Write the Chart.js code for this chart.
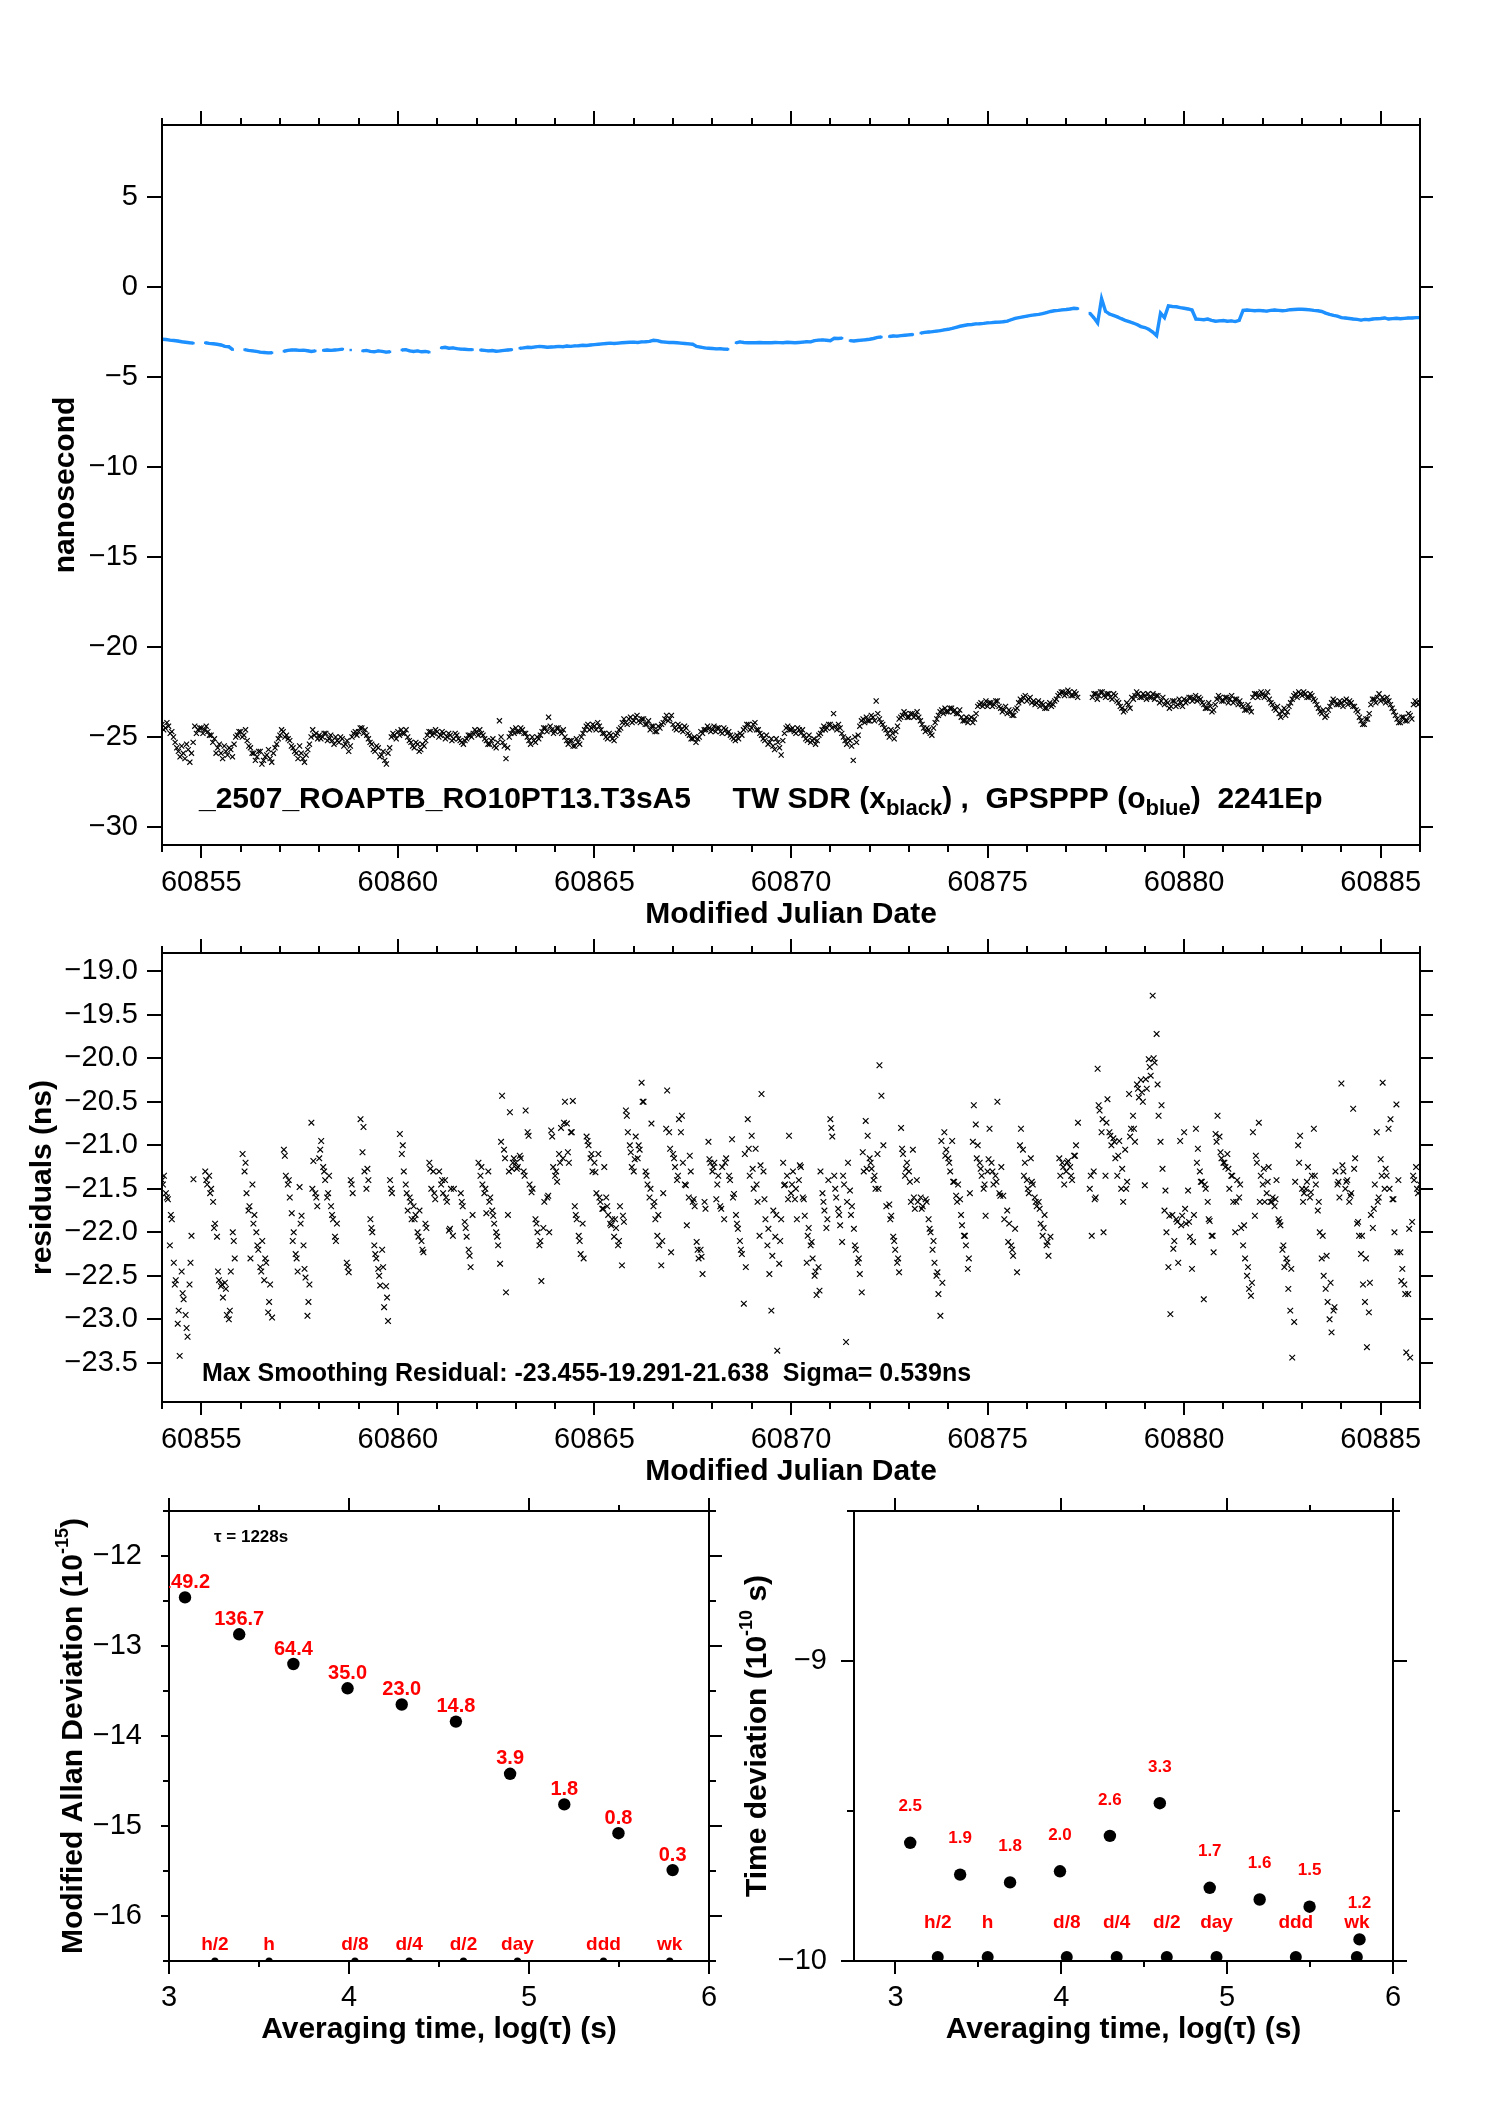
<!DOCTYPE html>
<html>
<head>
<meta charset="utf-8">
<script src="https://cdn.jsdelivr.net/npm/chart.js@4.4.1/dist/chart.umd.min.js"></script>
<style>
html,body{margin:0;padding:0;background:#fff;}
#wrap{position:relative;width:1488px;height:2105px;overflow:hidden;background:#fff;}
canvas{position:absolute;}
</style>
</head>
<body>
<div id="wrap">
<canvas id="c1" width="1488" height="935" style="left:0;top:0;width:1488px;height:935px"></canvas>
<canvas id="c2" width="1488" height="575" style="left:0;top:935px;width:1488px;height:575px"></canvas>
<canvas id="c3" width="744" height="625" style="left:0;top:1480px;width:744px;height:625px"></canvas>
<canvas id="c4" width="758" height="625" style="left:730px;top:1480px;width:758px;height:625px"></canvas>
</div>
<script>
// ================= DATA =================
const mjdStart = 60854;

// GPSPPP (blue), one value every 0.1 day from MJD 60854.0 (ns)
const gpsStep = 0.1;
const gpspppNs = [
-2.90,-2.92,-2.95,-2.97,-3.00,-3.04,-3.07,-3.10,-3.12,null,
null,-3.10,-3.13,-3.15,-3.18,-3.22,-3.30,-3.32,-3.48,null,
null,-3.48,-3.52,-3.55,-3.58,-3.62,-3.64,-3.66,-3.65,null,
null,-3.57,-3.52,-3.50,-3.50,-3.52,-3.51,-3.54,-3.58,-3.55,
null,-3.52,-3.50,-3.52,-3.50,-3.48,-3.45,null,-3.50,null,
null,-3.55,-3.52,-3.58,-3.60,-3.55,-3.58,-3.62,-3.60,null,
null,-3.50,-3.48,-3.55,-3.58,-3.55,-3.60,-3.58,-3.62,null,
null,-3.38,-3.35,-3.40,-3.38,-3.42,-3.45,-3.46,-3.48,-3.48,
null,-3.50,-3.52,-3.55,-3.53,-3.57,-3.55,-3.52,-3.50,-3.48,
null,-3.40,-3.38,-3.35,-3.36,-3.33,-3.30,-3.32,-3.35,-3.33,
-3.32,-3.30,-3.32,-3.28,-3.30,-3.27,-3.26,-3.24,-3.25,-3.22,
-3.20,-3.18,-3.16,-3.14,-3.12,-3.14,-3.12,-3.10,-3.08,-3.07,
-3.06,-3.08,-3.05,-3.04,-3.02,-2.96,-2.98,-3.04,-3.06,-3.08,
-3.08,-3.10,-3.12,-3.14,-3.16,-3.18,-3.30,-3.34,-3.38,-3.40,
-3.42,-3.44,-3.43,-3.45,-3.46,null,-3.10,-3.05,-3.08,-3.10,
-3.09,-3.10,-3.08,-3.10,-3.09,-3.10,-3.08,-3.09,-3.10,-3.07,
-3.08,-3.10,-3.08,-3.06,-3.04,-3.05,-2.98,-2.95,-2.94,-2.96,
-2.98,-2.85,-2.86,-2.84,null,-2.98,-3.00,-2.97,-2.95,-2.93,
-2.90,-2.86,-2.80,-2.78,null,-2.75,-2.72,-2.73,-2.70,-2.68,
-2.66,-2.64,null,-2.56,-2.52,-2.50,-2.48,-2.45,-2.42,-2.38,
-2.35,-2.30,-2.24,-2.18,-2.14,-2.10,-2.08,-2.05,-2.04,-2.02,
-1.99,-1.98,-1.96,-1.95,-1.93,-1.90,-1.82,-1.74,-1.70,-1.66,
-1.62,-1.58,-1.55,-1.52,-1.48,-1.42,-1.36,-1.32,-1.30,-1.27,
-1.25,-1.22,-1.18,-1.20,null,null,-1.45,-1.70,-2.00,-0.65,
-1.35,-1.50,-1.58,-1.66,-1.76,-1.85,-1.92,-2.00,-2.08,-2.20,
-2.25,-2.35,-2.50,-2.70,-1.45,-1.70,-1.05,-1.08,-1.10,-1.15,
-1.18,-1.22,-1.28,-1.78,-1.80,-1.82,-1.78,-1.85,-1.90,-1.88,
-1.86,-1.90,-1.88,-1.92,-1.85,-1.30,-1.28,-1.30,-1.32,-1.30,
-1.32,-1.34,-1.30,-1.28,-1.30,-1.32,-1.30,-1.26,-1.25,-1.24,
-1.24,-1.25,-1.27,-1.30,-1.32,-1.36,-1.45,-1.52,-1.58,-1.62,
-1.70,-1.72,-1.75,-1.78,-1.80,-1.84,-1.80,-1.82,-1.78,-1.76,
-1.75,-1.72,-1.78,-1.76,-1.74,-1.76,-1.74,-1.72,-1.72,-1.70,
-1.70];

// TW SDR (black x), one value every 1/12 day from MJD 60854.0 (ns)
const twStep = 1 / 12;
const twSdrNs = [
-24.3,-24.5,-24.4,-24.7,-25.3,-25.8,-25.5,-26.2,-25.7,-25.9,-24.4,-24.6,
-24.5,-24.6,-24.7,-24.9,-25.1,-25.6,-25.9,-25.5,-26.0,-25.7,-25.4,-24.9,
-24.7,-24.9,-25.2,-25.6,-25.9,-26.1,-25.8,-26.3,-26.0,-26.2,-25.9,-25.4,
-24.9,-24.7,-24.9,-25.2,-25.6,-25.9,-25.5,-26.2,-26.0,-25.4,-24.6,-24.8,
-24.9,-25.0,-24.8,-25.1,-25.2,-25.0,-25.3,-25.1,-25.4,-25.8,-25.0,-24.7,
-24.7,-24.5,-24.6,-25.1,-25.4,-25.8,-25.6,-26.0,-26.3,-25.9,-25.0,-24.9,
-24.7,-24.6,-24.8,-25.0,-25.3,-25.6,-25.4,-25.7,-25.5,-24.9,-24.7,-24.8,
-24.7,-24.9,-24.8,-25.0,-24.9,-25.1,-24.9,-25.2,-25.4,-25.1,-24.9,-24.8,
-24.7,-24.6,-24.9,-25.2,-25.4,-25.1,-25.6,-24.1,-25.3,-26.2,-25.0,-24.6,
-24.5,-24.7,-24.6,-24.8,-25.2,-25.0,-25.3,-25.1,-24.7,-24.5,-23.9,-24.6,
-24.7,-24.5,-24.8,-25.0,-25.4,-25.2,-25.5,-25.3,-25.0,-24.6,-24.3,-24.5,
-24.4,-24.2,-24.6,-24.8,-25.1,-24.9,-25.2,-24.8,-24.5,-24.0,-24.3,-23.9,
-24.1,-23.8,-24.2,-24.0,-24.3,-24.6,-24.4,-24.7,-24.5,-24.2,-23.8,-24.0,
-24.3,-24.6,-24.4,-24.7,-24.5,-24.9,-25.1,-25.3,-25.0,-24.8,-24.6,-24.5,
-24.6,-24.7,-24.5,-24.8,-24.6,-24.7,-25.0,-25.2,-25.1,-24.9,-24.5,-24.3,
-24.5,-24.2,-24.6,-24.9,-25.2,-25.4,-25.1,-25.7,-25.3,-26.0,-24.8,-24.4,
-24.6,-24.7,-24.5,-24.8,-24.9,-25.2,-25.3,-25.1,-25.2,-24.8,-24.4,-24.5,
-24.3,-23.7,-24.6,-24.5,-25.0,-25.4,-25.2,-26.3,-25.3,-24.4,-24.0,-23.9,
-24.1,-23.9,-23.0,-24.0,-24.3,-24.6,-25.0,-24.8,-24.7,-24.0,-23.8,-23.7,
-23.9,-23.7,-23.8,-23.9,-24.3,-24.7,-24.6,-24.9,-24.2,-23.8,-23.5,-23.4,
-23.6,-23.4,-23.5,-23.7,-23.9,-24.1,-24.2,-23.9,-24.0,-23.3,-23.1,-23.2,
-23.3,-23.1,-23.2,-23.0,-23.4,-23.5,-23.7,-23.6,-23.8,-23.4,-22.9,-22.8,
-23.0,-22.8,-23.0,-23.1,-23.3,-23.2,-23.4,-23.1,-23.2,-22.9,-22.6,-22.5,
-22.6,-22.5,-22.7,-22.6,null,null,null,null,-22.8,-22.6,-22.7,-22.5,
-22.8,-22.6,-22.9,-22.7,-23.1,-23.4,-23.5,-23.2,-22.8,-22.7,-22.6,-22.8,
-22.7,-22.6,-22.8,-22.9,-22.7,-23.0,-23.2,-23.1,-23.3,-23.0,-23.2,-23.1,
-22.9,-23.0,-22.8,-22.9,-23.0,-22.9,-23.2,-23.4,-23.3,-23.5,-22.9,-22.8,
-23.0,-22.8,-22.9,-23.1,-22.9,-23.0,-23.3,-23.5,-23.4,-22.8,-22.6,-22.7,
-22.6,-22.7,-22.9,-23.2,-23.5,-23.7,-23.6,-23.8,-23.3,-22.9,-22.6,-22.5,
-22.7,-22.6,-22.8,-22.7,-23.0,-23.4,-23.7,-23.9,-23.5,-23.1,-23.0,-23.2,
-23.1,-23.0,-23.2,-23.1,-23.3,-23.6,-24.1,-24.3,-24.0,-23.2,-22.9,-22.8,
-23.0,-22.9,-22.8,-23.2,-23.6,-24.0,-24.2,-23.9,-24.1,-23.8,-23.2,-23.1,
-23.1];

// TW SDR second sample set (black x), every 1/12 day from MJD 60854 + 1/24 (ns)
const twSdrNsB = [
-24.6,-24.2,-24.8,-25.0,-25.6,-26.1,-25.9,-25.4,-26.4,-25.3,-24.8,-24.5,
-24.8,-24.4,-24.9,-25.3,-25.9,-25.4,-26.2,-25.8,-25.6,-26.1,-25.0,-24.7,
-25.0,-24.6,-25.5,-25.9,-26.3,-25.8,-26.5,-26.1,-25.7,-26.4,-25.6,-25.1,
-24.6,-25.0,-25.1,-25.5,-25.8,-26.2,-25.9,-26.4,-25.7,-25.0,-24.9,-25.1,
-25.1,-24.8,-25.2,-24.9,-25.4,-25.2,-25.0,-25.5,-25.2,-25.5,-24.8,-24.9,
-24.5,-24.8,-24.9,-25.3,-25.7,-25.5,-26.1,-25.8,-26.5,-25.6,-24.8,-25.1,
-24.9,-24.8,-24.6,-25.2,-25.5,-25.3,-25.8,-25.4,-25.2,-24.7,-24.9,-24.6,
-25.0,-24.7,-25.1,-24.8,-25.2,-24.8,-25.1,-25.3,-25.2,-24.9,-25.0,-24.6,
-24.9,-24.8,-25.1,-25.4,-25.2,-25.5,-25.3,-25.0,-25.5,-25.6,-24.8,-24.8,
-24.7,-24.5,-24.8,-25.0,-25.4,-25.2,-25.0,-24.9,-24.5,-24.7,-24.4,-24.8,
-24.5,-24.7,-24.6,-25.2,-25.2,-25.5,-25.1,-25.4,-24.8,-24.4,-24.6,-24.3,
-24.6,-24.4,-24.8,-25.0,-24.8,-25.1,-24.9,-24.6,-24.2,-24.2,-24.0,-24.2,
-23.9,-24.1,-24.0,-24.3,-24.1,-24.4,-24.7,-24.4,-24.3,-24.0,-24.1,-23.8,
-24.5,-24.3,-24.6,-24.4,-24.8,-25.1,-25.0,-25.1,-24.7,-24.6,-24.4,-24.7,
-24.4,-24.5,-24.7,-24.5,-24.8,-24.9,-25.1,-24.9,-24.8,-24.6,-24.3,-24.6,
-24.3,-24.6,-24.8,-25.1,-24.9,-25.3,-25.5,-25.1,-25.6,-25.2,-24.5,-24.6,
-24.5,-24.8,-24.6,-24.6,-25.1,-24.9,-25.2,-25.4,-24.9,-24.6,-24.6,-24.3,
-24.5,-24.4,-24.3,-24.8,-25.2,-25.1,-25.5,-25.0,-24.9,-24.1,-24.2,-24.1,
-23.8,-24.1,-23.7,-24.2,-24.5,-24.8,-24.6,-25.1,-24.4,-23.9,-23.6,-23.9,
-23.7,-23.9,-23.6,-24.1,-24.5,-24.5,-24.8,-24.5,-24.0,-23.6,-23.7,-23.6,
-23.4,-23.6,-23.7,-23.5,-24.1,-23.9,-24.0,-24.2,-23.7,-23.2,-23.3,-23.0,
-23.1,-23.3,-23.0,-23.3,-23.6,-23.3,-23.5,-23.8,-23.5,-23.1,-23.0,-22.7,
-22.9,-23.1,-23.2,-23.0,-23.1,-23.4,-23.2,-23.3,-23.0,-22.7,-22.5,-22.7,
-22.4,-22.7,-22.5,-22.8,null,null,null,null,-22.6,-22.9,-22.5,-22.7,
-22.6,-22.8,-22.6,-23.0,-23.3,-23.6,-23.1,-23.4,-22.9,-22.5,-22.8,-22.6,
-22.9,-22.8,-22.6,-22.7,-23.1,-22.8,-23.0,-23.4,-23.0,-23.3,-22.9,-23.3,
-23.1,-22.8,-23.0,-22.7,-22.8,-23.1,-23.4,-23.1,-23.6,-23.2,-22.7,-23.0,
-22.8,-23.1,-22.7,-22.9,-23.2,-23.2,-23.5,-23.2,-23.6,-22.6,-22.8,-22.5,
-22.8,-22.5,-23.1,-23.4,-23.3,-23.9,-23.4,-23.6,-23.1,-22.7,-22.8,-22.6,
-22.5,-22.8,-22.6,-22.9,-23.2,-23.6,-23.5,-23.8,-23.3,-22.9,-23.2,-23.0,
-23.3,-22.9,-23.0,-23.3,-23.5,-23.9,-24.3,-24.0,-23.7,-22.9,-23.1,-22.6,
-22.8,-23.1,-23.0,-23.4,-23.8,-24.2,-23.9,-24.1,-23.7,-24.0,-23.0,-23.2];

// Residuals (ns), one value every 0.05 day from MJD 60854.0
const resStep = 0.05;
const residualNs = [
-21.40,-21.35,-21.55,-21.62,-22.15,-21.85,-22.35,-22.55,-23.05,-23.42,-22.45,-22.77,-22.95,-23.20,-22.60,-22.04,-21.39,null,null,null,
null,null,-21.30,-21.45,-21.35,-21.50,-21.65,-21.90,-22.05,-22.55,-22.62,-22.75,-22.58,-22.95,-23.00,-22.45,-22.00,-22.30,null,null,
null,-21.10,-21.30,-21.55,-21.75,-22.30,-21.45,-21.80,-22.00,-22.20,-22.40,-22.10,-22.55,-22.35,-22.92,-22.60,-22.98,null,null,null,
null,null,-21.05,-21.35,-21.45,-21.60,-21.78,-22.00,-22.25,-22.45,-21.48,-21.81,-22.15,-22.52,-22.96,-22.60,-20.74,-21.18,-21.55,-21.70,
-21.15,-20.95,-21.25,-21.40,-21.60,-21.35,-21.70,-21.85,-22.05,-21.90,null,null,null,null,-22.35,-22.46,-21.40,-21.55,null,null,
null,-20.70,-21.08,-21.30,-21.50,-21.40,-21.85,-22.00,-22.15,-22.30,-22.42,-22.61,-22.20,-22.86,-22.62,-23.02,-21.40,-21.55,null,null,
null,-20.87,-21.10,-21.30,-21.45,-21.75,-21.60,-21.85,-21.70,-21.80,-22.00,-21.75,-22.10,-22.23,-21.90,null,-21.20,-21.50,-21.30,-21.62,
null,-21.30,-21.45,-21.55,-21.40,-21.65,-21.98,-21.50,-22.04,null,null,null,-21.55,-21.70,-21.88,-22.05,-22.20,-22.40,-21.80,null,
null,-21.20,-21.35,-21.45,-21.55,-21.78,-21.30,-21.60,-21.75,-21.90,-22.00,-22.15,-22.36,-20.43,-21.05,-22.69,-21.80,-20.62,-21.27,-21.15,
-21.20,-21.25,-21.12,null,-21.30,-20.60,-20.85,-21.45,-21.54,null,-21.85,-22.00,-22.15,-22.56,-21.95,null,-21.60,-22.00,-20.83,-21.25,
-21.35,-21.42,-21.10,-20.80,-21.15,-20.50,-20.75,-21.20,-20.85,-20.49,-21.70,-21.85,-22.04,-22.25,-21.90,null,-20.90,-21.00,-21.15,-21.30,
-21.20,-21.55,-21.10,-21.65,-21.73,-21.25,-21.60,-21.80,-21.90,-21.85,-22.05,-21.95,-22.15,-21.70,-22.38,-21.88,-20.60,-20.85,-21.00,-21.25,
-21.30,-20.90,-21.15,-21.05,-20.28,-20.50,-21.30,-21.45,-21.60,-20.75,-21.70,-21.85,-22.04,-22.15,-22.38,-21.55,null,-20.37,-20.85,-22.23,
-21.10,-21.25,-21.40,-20.70,-20.85,-21.20,-21.45,-21.92,-21.60,-21.30,-21.65,-21.70,-22.11,-22.30,-22.20,-22.48,-21.65,null,-20.96,-21.20,
-21.30,-21.20,-21.62,-21.35,-21.70,-21.25,-21.85,-21.15,null,-21.40,-20.93,-21.56,-21.80,-21.96,-22.10,-22.25,-22.82,-22.40,-20.70,-21.35,
-20.89,-21.50,-21.04,-21.65,-22.04,-20.41,-21.30,-21.85,-22.15,-22.48,-22.90,-21.75,-22.05,-23.36,-22.36,-21.85,-21.20,-21.45,-21.35,-20.89,
-21.55,-21.30,-21.62,-21.85,-21.40,-21.25,-21.60,-21.81,-22.35,-21.95,-22.15,-22.30,-22.50,-22.72,-22.40,-21.30,-21.55,-21.75,-21.95,-21.40,
-20.70,-20.90,-21.35,-21.60,-21.73,-21.92,-22.11,-21.45,-23.26,-21.20,-21.52,-21.70,-21.96,-22.20,-22.35,-22.48,-22.69,-21.30,-20.72,-20.89,
-21.15,-21.27,-21.40,-21.50,-21.10,-20.08,-20.43,-21.00,null,null,-21.68,-21.81,-22.05,-22.20,-22.35,-22.46,-20.80,-21.10,-21.35,-21.20,
-21.30,-21.65,-21.05,-21.73,-21.40,null,-21.60,-21.70,null,-21.65,-21.85,-22.00,-22.20,-22.35,-22.50,-22.71,-22.96,-22.58,-20.85,-21.05,
-21.15,-21.30,-20.95,-21.42,-21.58,-21.45,-21.62,-21.92,-22.04,-22.15,-22.42,-21.55,null,-20.54,-20.76,-21.00,-21.20,-21.35,-21.50,-21.81,
-21.30,-20.81,-21.20,-21.45,-21.35,-20.50,-21.55,-21.25,-21.58,null,-21.75,-21.90,-22.15,-22.27,-21.96,-22.46,null,-20.81,-21.05,-21.20,
-21.40,-21.55,-21.15,-21.45,-21.60,-21.70,-21.65,-21.90,-22.04,-21.80,-22.15,-22.27,-22.05,null,null,null,null,-21.35,-21.20,-21.45,
-21.30,-21.18,-21.25,-21.40,-21.12,-21.00,-20.74,null,null,null,null,null,-21.50,-22.04,-21.30,-21.60,-20.12,-20.60,-20.85,-22.00,
-21.35,-20.47,-20.85,-21.00,-20.92,-21.15,-21.35,-20.95,-21.50,-21.65,-21.05,-21.42,-20.41,-20.81,-20.66,-20.96,-20.30,-20.45,-20.25,-20.50,
-21.46,-20.35,-20.01,-20.20,-19.28,-20.05,-19.72,-20.66,-20.96,-21.27,-21.75,-22.00,-22.40,-22.94,-21.80,-22.10,-21.85,-22.35,-20.95,-21.81,
-20.85,-21.90,-21.52,-22.05,-22.42,-21.80,-20.81,-21.04,-21.30,-21.42,-22.77,-21.50,-21.65,-21.87,-22.04,-22.23,-20.87,-20.66,-20.90,-21.15,
-21.20,-21.25,-21.10,-21.50,-21.35,-21.65,-22.00,-21.40,-21.60,-21.95,-22.15,-22.30,-22.50,-22.65,-22.73,-20.85,-21.81,-21.20,-20.74,-21.35,
-21.45,-21.65,-21.55,-21.25,-21.65,-21.60,-21.70,-21.40,-21.85,-21.92,-22.20,-22.40,-22.30,-22.65,-22.90,-23.44,-23.03,null,-21.00,-20.89,
-21.50,-21.55,-21.50,-21.25,-21.60,-21.35,-20.81,-21.45,-21.75,-22.00,-22.30,-22.50,-22.65,-22.80,-23.00,-23.15,-22.90,-21.30,-21.45,-21.60,
-20.29,-21.30,-21.50,-21.40,-21.65,-21.55,-20.58,-21.15,-21.90,-22.04,-22.25,-22.60,-22.80,-23.32,-22.92,-21.80,-21.95,-21.45,-20.85,-21.60,
-21.16,-20.28,-21.50,-21.35,-20.81,-20.70,-21.62,-22.00,-20.53,-21.40,-22.23,-22.42,-22.60,-23.38,-22.71,-23.44,-21.88,-21.40,-21.25,-21.55,
-21.45];

// Residuals second sample set (ns), every 0.1 day from MJD 60854.025
const resStepB = 0.1;
const residualNsB = [
-21.45,-21.60,-21.80,-22.60,-22.90,-22.70,-23.10,-22.35,null,null,
null,-21.40,-21.55,-21.95,-22.45,-22.60,-22.65,-22.90,-22.10,null,
null,-21.20,-21.70,-21.90,-22.15,-22.45,-22.30,-22.80,null,null,
null,-21.12,-21.40,-22.10,-22.30,-21.90,-22.42,-22.80,-21.50,-21.60,
-21.05,-21.30,-21.55,-21.80,-22.10,null,null,-22.40,-21.45,null,
null,-20.79,-21.27,-21.95,-22.25,-22.50,-22.40,-22.75,-21.50,null,
null,-21.00,-21.55,-21.65,-21.85,-22.05,-22.20,-21.95,-21.27,-21.55,
null,-21.40,-21.60,-21.96,-21.50,null,-21.65,-21.95,-22.27,null,
null,-21.25,-21.50,-21.65,-21.81,-22.05,-20.96,-21.15,-21.30,-21.20,
-21.27,-21.15,-21.35,-20.89,-21.50,-21.90,-22.10,-21.65,-21.58,-20.90,
-21.30,-21.20,-20.74,-21.08,-20.85,-21.80,-22.10,-22.30,-20.95,-21.10,
-21.31,-21.60,-21.73,-21.70,-21.92,-21.85,-22.10,-21.81,-20.66,-21.08,
-21.16,-21.00,-20.50,-21.35,-21.50,-21.65,-21.80,-22.10,-20.81,-21.04,
-21.15,-21.35,-20.66,-21.46,-21.12,-21.62,-22.20,-22.28,-21.73,-21.16,
-21.25,-21.45,-21.73,-21.20,-21.35,-21.60,-21.90,-22.20,-21.10,-21.04,
-21.27,-21.45,-21.23,-21.62,-21.96,-22.27,-21.80,-22.10,-21.46,-21.62,
-21.45,-21.50,-21.23,-21.62,-22.04,-22.11,-22.45,-22.67,-21.65,-21.85,
-20.80,-21.50,-21.80,-21.35,-21.65,-21.80,-22.15,-22.30,-21.08,-21.27,
-21.20,-21.35,-21.50,null,-21.70,-21.85,-22.10,-22.30,-21.04,-21.27,
-21.42,-21.60,-21.65,-21.73,-21.62,-21.96,-22.10,-22.46,-20.95,-21.12,
-21.20,-21.42,-21.65,-21.80,-22.04,-22.30,-20.96,-21.15,-21.27,-21.45,
-21.16,-21.30,-21.42,-21.58,-21.85,-22.11,-22.20,null,-21.00,-21.35,
-21.50,-21.42,-21.65,-21.73,-21.95,-22.11,null,null,-21.15,-21.25,
-21.20,-21.35,-21.12,null,null,null,-21.35,-21.62,-20.54,-20.70,
-20.74,-20.89,-20.96,-21.12,-21.27,-21.50,-20.90,-20.81,-20.35,-20.39,
-20.24,-20.10,-20.00,-20.30,-20.54,-21.52,-21.81,-22.19,-21.88,-21.92,
-21.73,-21.88,-22.11,-21.20,-21.42,-21.45,-21.85,-22.04,-20.96,-21.08,
-21.20,-21.27,-21.35,-21.65,-21.45,-21.92,-22.40,-22.58,-21.12,-21.65,
-21.27,-21.42,-21.65,-21.62,-21.88,-22.15,-22.35,-22.42,-21.42,-21.20,
-21.65,-21.42,-21.54,-21.35,-21.65,-22.04,-22.27,-22.58,-22.86,-21.42,
-21.23,-21.42,-21.58,-21.27,-21.88,-22.04,-22.30,-22.58,-21.73,-21.65,
-21.35,-21.27,-21.50,-21.62,-22.23,-22.56,-22.71,-21.96,-21.35,-21.50];

// Stability plots
const logTau = [3.089, 3.390, 3.691, 3.992, 4.293, 4.594, 4.895, 5.196, 5.497, 5.798];
const modAdevLog = [-12.46, -12.87, -13.20, -13.47, -13.65, -13.84, -14.42, -14.76, -15.08, -15.49];
const modAdevLabels = ['149.2', '136.7', '64.4', '35.0', '23.0', '14.8', '3.9', '1.8', '0.8', '0.3'];
const tdevLog = [-9.606, -9.712, -9.738, -9.701, -9.583, -9.474, -9.756, -9.795, -9.819, -9.928];
const tdevLabels = ['2.5', '1.9', '1.8', '2.0', '2.6', '3.3', '1.7', '1.6', '1.5', '1.2'];
const periodLogTau = [3.255, 3.556, 4.033, 4.334, 4.636, 4.936, 5.414, 5.782];
const periodNames = ['h/2', 'h', 'd/8', 'd/4', 'd/2', 'day', 'ddd', 'wk'];
const adevBaseline = -16.5;
const tdevBaseline = -9.987;

// Tick labels
const mjdTickLabels = [60855, 60860, 60865, 60870, 60875, 60880, 60885];
const nsTickLabels = [5, 0, -5, -10, -15, -20, -25, -30];
const resTickLabels = [-19.0, -19.5, -20.0, -20.5, -21.0, -21.5, -22.0, -22.5, -23.0, -23.5];
const logTauTickLabels = [3, 4, 5, 6];
const logTauMinorTicks = [3.5, 4.5, 5.5];
const adevTickLabels = [-12, -13, -14, -15, -16];
const adevMinorTicks = [-11.5, -12.5, -13.5, -14.5, -15.5, -16.5];
const tdevTickLabels = [-9, -10];
const tdevMinorTicks = [-8.5, -9.5];

// ================= RENDERING =================
const FONT = '"Liberation Sans", Arial, Helvetica, sans-serif';
Chart.defaults.font.family = FONT;
Chart.defaults.color = '#000';
const BLUE = 'rgb(30,144,255)';
const RED = '#ff0000';

const mjdMinorTicks = [];
for (let d = 60854; d <= 60886; d++) if (!mjdTickLabels.includes(d)) mjdMinorTicks.push(d);

const minus = (v, dec) => (v < 0 ? '\u2212' : '') + Math.abs(v).toFixed(dec);
const series = (arr, start, step) => arr.map((v, i) => ({x: start + i * step, y: v}));
const setTicks = (vals) => (s) => { s.ticks = vals.map(v => ({value: v})); };
const fitY = (w) => (s) => { s.width = w; s.paddingTop = 0; s.paddingBottom = 0; };
const fitX = (h) => (s) => { s.height = h; s.paddingLeft = 0; s.paddingRight = 0; };

function framePlugin(t) {
  return {
    id: 'frameTicks',
    afterDatasetsDraw(chart) {
      const {ctx, chartArea: a} = chart;
      const xs = chart.scales.x, ys = chart.scales.y;
      ctx.save();
      ctx.strokeStyle = '#000';
      ctx.lineWidth = 2;
      ctx.beginPath();
      const xt = (vals, up, down) => vals.forEach(v => {
        const p = Math.round(xs.getPixelForValue(v));
        ctx.moveTo(p, a.top); ctx.lineTo(p, a.top - up);
        ctx.moveTo(p, a.bottom); ctx.lineTo(p, a.bottom + down);
      });
      const yt = (vals, l, r) => vals.forEach(v => {
        const p = Math.round(ys.getPixelForValue(v));
        ctx.moveTo(a.left, p); ctx.lineTo(a.left - l, p);
        ctx.moveTo(a.right, p); ctx.lineTo(a.right + r, p);
      });
      xt(t.xMajor, t.xMajTop, t.xMajBot);
      xt(t.xMinor, t.xMinTop, t.xMinBot);
      yt(t.yMajor, t.yMajL, t.yMajR);
      yt(t.yMinor || [], t.yMinL || 0, t.yMinR || 0);
      ctx.stroke();
      ctx.strokeRect(Math.round(a.left), Math.round(a.top), Math.round(a.right - a.left), Math.round(a.bottom - a.top));
      ctx.restore();
    }
  };
}

function rotTitle(ctx, cx, cy, parts) {
  ctx.save();
  ctx.translate(cx, cy);
  ctx.rotate(-Math.PI / 2);
  ctx.fillStyle = '#000';
  ctx.textBaseline = 'middle';
  let total = 0;
  parts.forEach(([t, s]) => { ctx.font = 'bold ' + (s ? 18 : 30) + 'px ' + FONT; total += ctx.measureText(t).width; });
  let x = -total / 2;
  parts.forEach(([t, s]) => {
    ctx.font = 'bold ' + (s ? 18 : 30) + 'px ' + FONT;
    ctx.fillText(t, x, s ? -11 : 0);
    x += ctx.measureText(t).width;
  });
  ctx.restore();
}

const baseOpts = () => ({
  responsive: false, animation: false, devicePixelRatio: 1,
  plugins: {legend: {display: false}, tooltip: {enabled: false}}
});

const axisCommon = {grid: {display: false, drawTicks: false}, border: {display: false}};
const crossStyle = (r) => ({showLine: false, pointStyle: 'crossRot', pointRadius: r,
  pointBorderColor: '#000', pointBackgroundColor: '#000', pointBorderWidth: 1.15});

// ---------- Chart 1: time series ----------
new Chart(document.getElementById('c1'), {
  type: 'scatter',
  data: {datasets: [
    {data: series(gpspppNs, mjdStart, gpsStep), showLine: true, spanGaps: false, borderColor: BLUE, borderWidth: 3.4,
     pointRadius: 1.7, pointStyle: 'rect', pointBackgroundColor: BLUE, pointBorderColor: BLUE, pointBorderWidth: 0},
    Object.assign({data: series(twSdrNs, mjdStart, twStep)}, crossStyle(3.6)),
    Object.assign({data: series(twSdrNsB, mjdStart + twStep / 2, twStep)}, crossStyle(3.6))
  ]},
  options: Object.assign(baseOpts(), {
    layout: {padding: {top: 125, right: 68, left: 0, bottom: 0}},
    scales: {
      x: Object.assign({type: 'linear', min: 60854, max: 60886, afterFit: fitX(90), afterBuildTicks: setTicks(mjdTickLabels),
        ticks: {autoSkip: false, maxRotation: 0, padding: 21, font: {size: 29}, callback: v => String(v)},
        title: {display: true, text: 'Modified Julian Date', font: {size: 30, weight: 'bold'}, padding: {top: 0, bottom: 2}}}, axisCommon),
      y: Object.assign({min: -31, max: 9, afterFit: fitY(162), afterBuildTicks: setTicks(nsTickLabels),
        ticks: {padding: 24, font: {size: 29}, callback: v => minus(v, 0)},
        title: {display: true, text: 'nanosecond', font: {size: 30, weight: 'bold'}, padding: {top: 48, bottom: 0}}}, axisCommon)
    }
  }),
  plugins: [framePlugin({xMajor: mjdTickLabels, xMinor: mjdMinorTicks, xMajTop: 14, xMajBot: 13, xMinTop: 7, xMinBot: 7,
      yMajor: nsTickLabels, yMajL: 15, yMajR: 13}),
    {id: 'note1', afterDraw(chart) {
      const {ctx, chartArea: a} = chart;
      ctx.save(); ctx.fillStyle = '#000'; ctx.textBaseline = 'middle';
      let x = a.left + 37; const y = a.bottom - 45;
      const parts = [['_2507_ROAPTB_RO10PT13.T3sA5     TW SDR (x', 0], ['black', 1], [') ,  GPSPPP (o', 0], ['blue', 1], [')  2241Ep', 0]];
      parts.forEach(([t, s]) => {
        ctx.font = 'bold ' + (s ? 22 : 30) + 'px ' + FONT;
        ctx.fillText(t, x, s ? y + 9 : y);
        x += ctx.measureText(t).width;
      });
      ctx.restore();
    }}]
});

// ---------- Chart 2: residuals ----------
new Chart(document.getElementById('c2'), {
  type: 'scatter',
  data: {datasets: [
    Object.assign({data: series(residualNs, mjdStart, resStep)}, crossStyle(4)),
    Object.assign({data: series(residualNsB, mjdStart + 0.025, resStepB)}, crossStyle(4))
  ]},
  options: Object.assign(baseOpts(), {
    layout: {padding: {top: 18, right: 68, left: 0, bottom: 0}},
    scales: {
      x: Object.assign({type: 'linear', min: 60854, max: 60886, afterFit: fitX(108), afterBuildTicks: setTicks(mjdTickLabels),
        ticks: {autoSkip: false, maxRotation: 0, padding: 21, font: {size: 29}, callback: v => String(v)},
        title: {display: true, text: 'Modified Julian Date', font: {size: 30, weight: 'bold'}, padding: {top: 0, bottom: 20}}}, axisCommon),
      y: Object.assign({min: -23.95, max: -18.79, afterFit: fitY(162), afterBuildTicks: setTicks(resTickLabels),
        ticks: {padding: 24, font: {size: 29}, callback: v => minus(v, 1)},
        title: {display: true, text: 'residuals (ns)', font: {size: 30, weight: 'bold'}, padding: {top: 25, bottom: 0}}}, axisCommon)
    }
  }),
  plugins: [framePlugin({xMajor: mjdTickLabels, xMinor: mjdMinorTicks, xMajTop: 14, xMajBot: 13, xMinTop: 7, xMinBot: 7,
      yMajor: resTickLabels, yMajL: 15, yMajR: 13}),
    {id: 'note2', afterDraw(chart) {
      const {ctx, chartArea: a} = chart;
      ctx.save(); ctx.fillStyle = '#000'; ctx.textBaseline = 'middle';
      ctx.font = 'bold 25px ' + FONT;
      ctx.fillText('Max Smoothing Residual: -23.455-19.291-21.638  Sigma= 0.539ns', a.left + 40, a.bottom - 28);
      ctx.restore();
    }}]
});

// ---------- Chart 3: modified Allan deviation ----------
new Chart(document.getElementById('c3'), {
  type: 'scatter',
  data: {datasets: [
    {data: logTau.map((x, i) => ({x, y: modAdevLog[i]})), pointRadius: 6.2, pointBackgroundColor: '#000', pointBorderColor: '#000', pointBorderWidth: 0},
    {data: periodLogTau.map(x => ({x, y: adevBaseline})), pointRadius: 3.6, pointBackgroundColor: '#000', pointBorderColor: '#000', pointBorderWidth: 0, clip: 0}
  ]},
  options: Object.assign(baseOpts(), {
    layout: {padding: {top: 31, right: 35, left: 0, bottom: 0}},
    scales: {
      x: Object.assign({type: 'linear', min: 3, max: 6, afterFit: fitX(144), afterBuildTicks: setTicks(logTauTickLabels),
        ticks: {autoSkip: false, maxRotation: 0, padding: 20, font: {size: 29}, callback: v => String(v)},
        title: {display: true, text: 'Averaging time, log(\u03C4) (s)', font: {size: 30, weight: 'bold'}, padding: {top: 0, bottom: 57}}}, axisCommon),
      y: Object.assign({min: -16.5, max: -11.5, afterFit: fitY(169), afterBuildTicks: setTicks(adevTickLabels),
        ticks: {padding: 27, font: {size: 29}, callback: v => minus(v, 0)}}, axisCommon)
    }
  }),
  plugins: [framePlugin({xMajor: logTauTickLabels, xMinor: logTauMinorTicks, xMajTop: 13, xMajBot: 13, xMinTop: 6, xMinBot: 6,
      yMajor: adevTickLabels, yMajL: 8, yMajR: 13, yMinor: adevMinorTicks, yMinL: 6, yMinR: 7}),
    {id: 'note3', afterDraw(chart) {
      const {ctx, chartArea: a, scales: {x: xs, y: ys}} = chart;
      ctx.save();
      ctx.beginPath(); ctx.rect(a.left, a.top, a.right - a.left, a.bottom - a.top); ctx.clip();
      ctx.fillStyle = RED; ctx.textAlign = 'center'; ctx.textBaseline = 'middle';
      ctx.font = 'bold 20px ' + FONT;
      logTau.forEach((lt, i) => ctx.fillText(modAdevLabels[i], xs.getPixelForValue(lt), ys.getPixelForValue(modAdevLog[i]) - 15));
      ctx.font = 'bold 19px ' + FONT;
      periodLogTau.forEach((lt, i) => ctx.fillText(periodNames[i], xs.getPixelForValue(lt), ys.getPixelForValue(adevBaseline) - 16));
      ctx.fillStyle = '#000'; ctx.textAlign = 'left';
      ctx.font = 'bold 17px ' + FONT;
      ctx.fillText('\u03C4 = 1228s', a.left + 45, a.top + 26);
      ctx.restore();
      rotTitle(ctx, 74, (a.top + a.bottom) / 2, [['Modified Allan Deviation (10', 0], ['-15', 1], [')', 0]]);
    }}]
});

// ---------- Chart 4: time deviation ----------
new Chart(document.getElementById('c4'), {
  type: 'scatter',
  data: {datasets: [
    {data: logTau.map((x, i) => ({x, y: tdevLog[i]})), pointRadius: 6.2, pointBackgroundColor: '#000', pointBorderColor: '#000', pointBorderWidth: 0},
    {data: periodLogTau.map(x => ({x, y: tdevBaseline})), pointRadius: 6, pointBackgroundColor: '#000', pointBorderColor: '#000', pointBorderWidth: 0, clip: 0}
  ]},
  options: Object.assign(baseOpts(), {
    layout: {padding: {top: 31, right: 95, left: 0, bottom: 0}},
    scales: {
      x: Object.assign({type: 'linear', min: 2.75, max: 6, afterFit: fitX(144), afterBuildTicks: setTicks(logTauTickLabels),
        ticks: {autoSkip: false, maxRotation: 0, padding: 20, font: {size: 29}, callback: v => String(v)},
        title: {display: true, text: 'Averaging time, log(\u03C4) (s)', font: {size: 30, weight: 'bold'}, padding: {top: 0, bottom: 57}}}, axisCommon),
      y: Object.assign({min: -10, max: -8.5, afterFit: fitY(124), afterBuildTicks: setTicks(tdevTickLabels),
        ticks: {padding: 27, font: {size: 29}, callback: v => minus(v, 0)}}, axisCommon)
    }
  }),
  plugins: [framePlugin({xMajor: logTauTickLabels, xMinor: logTauMinorTicks, xMajTop: 13, xMajBot: 13, xMinTop: 6, xMinBot: 6,
      yMajor: tdevTickLabels, yMajL: 13, yMajR: 14, yMinor: tdevMinorTicks, yMinL: 7, yMinR: 7}),
    {id: 'note4', afterDraw(chart) {
      const {ctx, chartArea: a, scales: {x: xs, y: ys}} = chart;
      ctx.save();
      ctx.fillStyle = RED; ctx.textAlign = 'center'; ctx.textBaseline = 'middle';
      ctx.font = 'bold 17px ' + FONT;
      logTau.forEach((lt, i) => ctx.fillText(tdevLabels[i], xs.getPixelForValue(lt), ys.getPixelForValue(tdevLog[i]) - 36));
      ctx.font = 'bold 19px ' + FONT;
      periodLogTau.forEach((lt, i) => ctx.fillText(periodNames[i], xs.getPixelForValue(lt), a.bottom - 38));
      ctx.restore();
      rotTitle(ctx, 28, (a.top + a.bottom) / 2, [['Time deviation (10', 0], ['-10', 1], [' s)', 0]]);
    }}]
});
</script>
</body>
</html>
